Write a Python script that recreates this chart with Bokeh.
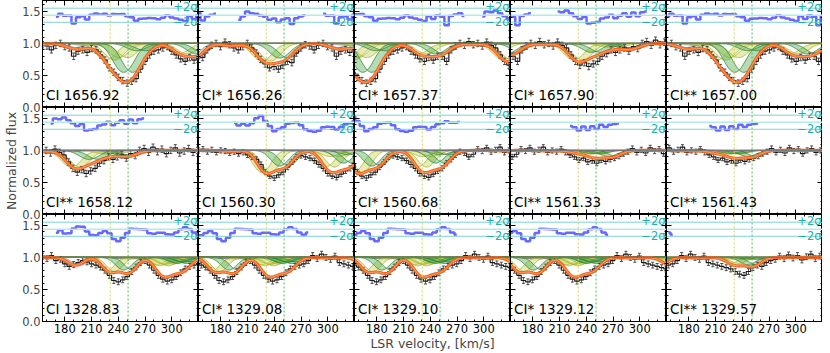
import numpy as np
from bokeh.plotting import figure
from bokeh.layouts import gridplot, row
from bokeh.models import Range1d, FixedTicker, LinearAxis, Span, Label
from bokeh.embed import file_html
from bokeh.resources import INLINE

C_KMS = 299792.458

# ---------------- panels (row-major, 3 x 5) ----------------
PANEL_LABELS = ["CI 1656.92", "CI* 1656.26", "CI* 1657.37", "CI* 1657.90", "CI** 1657.00",
                "CI** 1658.12", "CI 1560.30", "CI* 1560.68", "CI** 1561.33", "CI** 1561.43",
                "CI 1328.83", "CI* 1329.08", "CI* 1329.10", "CI* 1329.12", "CI** 1329.57"]
PANEL_WAVE = [1656.9283, 1656.2672, 1657.3792, 1657.9068, 1657.0082,
              1658.1212, 1560.3092, 1560.6822, 1561.3402, 1561.4384,
              1328.8333, 1329.0853, 1329.1004, 1329.1233, 1329.5775]
PANEL_SET = ["A", "A", "A", "A", "A", "A", "B", "B", "B", "B", "C", "C", "C", "C", "C"]
# fitted (residual) velocity windows of each panel, km/s
PANEL_FIT = [[(172, 330)], [(155, 174), (200, 276), (295, 330)], [(155, 278), (300, 330)],
             [(155, 178), (206, 308)], [(155, 330)], [(164, 268)], [(197, 330)], [(155, 271)],
             [(223, 278)], [(205, 259)], [(172, 330)], [(155, 277)], [(157, 272)],
             [(156, 267)], [(155, 162)]]

# velocity components: yellow, green, grey
COMP_VEL = [231.0, 251.0, 192.0]

# ---------------- multiplet A: CI 1656-1658 ----------------
A_REF = 1656.9283
A_VEL = np.arange(35, 546, 5)
A_FLUX = [0.82, 0.78, 0.90, 0.97, 1.00, 0.95, 1.02, 0.98, 0.93, 0.90,
          0.95, 1.00, 0.93, 0.85, 0.75, 0.68, 0.62, 0.64, 0.60, 0.66,
          0.72, 0.70, 0.85, 0.93, 0.98, 0.96, 0.90, 0.97, 1.00, 0.95,
          0.93, 0.80, 0.88, 0.90, 0.86, 0.92, 0.90, 0.82, 0.74, 0.62,
          0.55, 0.47, 0.42, 0.38, 0.41, 0.45, 0.60, 0.72, 0.82, 0.88,
          0.90, 0.93, 0.95, 0.88, 0.82, 0.76, 0.72, 0.78, 0.74, 0.80,
          0.80, 0.72, 0.90, 0.96, 1.00, 0.97, 1.03, 0.98, 1.00, 0.96,
          1.02, 0.97, 0.93, 0.82, 0.72, 0.66, 0.70, 0.64, 0.68, 0.72,
          0.80, 0.84, 0.90, 0.86, 0.90, 0.93, 0.88, 0.95, 0.92, 1.00,
          1.03, 0.97, 1.05, 0.98, 1.02, 0.95, 1.00, 1.04, 0.96, 0.99,
          1.03, 0.97, 1.00]
A_ERR = 0.05
A_LINES = [1656.2672, 1656.9283, 1657.0082, 1657.3792, 1657.9068, 1658.1212]
A_TAU_Y = [0.32, 0.30, 0.25, 0.18, 0.30, 0.06]
A_TAU_G = [0.26, 0.60, 0.12, 0.18, 0.15, 0.09]
A_TAU_K = [0.04, 0.08, 0.03, 0.02, 0.02, 0.01]
A_B = 15.0
A_EXTRA_V = [28.0]
A_EXTRA_TAU = [0.30]

# ---------------- multiplet B: CI 1560-1561 ----------------
B_REF = 1560.3092
B_VEL = np.arange(155, 546, 5)
B_FLUX = [1.00, 1.02, 0.98, 1.01, 0.97, 1.00, 0.99, 0.96, 0.98, 0.95,
          0.97, 0.93, 0.90, 0.86, 0.78, 0.66, 0.60, 0.57, 0.62, 0.66,
          0.74, 0.82, 0.90, 0.92, 0.90, 0.88, 0.84, 0.78, 0.72, 0.64,
          0.60, 0.58, 0.63, 0.68, 0.72, 0.80, 0.86, 0.93, 0.98, 0.96,
          0.90, 0.94, 1.02, 0.99, 1.04, 0.98, 1.01, 1.05, 0.97, 1.00,
          0.98, 1.02, 0.97, 0.93, 0.90, 0.85, 0.88, 0.82, 0.84, 0.80,
          0.85, 0.83, 0.86, 0.88, 0.91, 0.95, 0.98, 1.03, 0.97, 1.01,
          0.96, 1.04, 0.99, 1.02, 0.95, 1.00, 1.03, 0.97, 1.00]
B_ERR = 0.04
B_LINES = [1560.3092, 1560.6822, 1560.7090, 1561.3402, 1561.3667, 1561.4384]
B_TAU_Y = [0.42, 0.30, 0.10, 0.04, 0.005, 0.06]
B_TAU_G = [0.28, 0.22, 0.07, 0.05, 0.005, 0.10]
B_TAU_K = [0.015, 0.01, 0.005, 0.005, 0.0, 0.005]
B_B = 13.0

# ---------------- multiplet C: CI 1328-1329 ----------------
C_REF = 1328.8333
C_VEL = np.arange(155, 501, 5)
C_FLUX = [1.02, 0.98, 1.03, 0.95, 0.97, 0.90, 0.86, 0.89, 0.92, 0.95,
          0.93, 0.90, 0.88, 0.85, 0.80, 0.72, 0.64, 0.62, 0.65, 0.70,
          0.78, 0.85, 0.92, 0.95, 0.88, 0.80, 0.72, 0.66, 0.63, 0.65,
          0.70, 0.76, 0.82, 0.86, 0.88, 0.90, 0.95, 1.03, 0.98, 1.05,
          1.00, 0.97, 1.02, 0.92, 0.90, 0.88, 0.86, 0.84, 0.82, 0.78,
          0.74, 0.72, 0.78, 0.84, 0.88, 0.86, 0.92, 0.95, 0.97, 1.02,
          0.98, 1.04, 0.99, 1.03, 0.96, 1.01, 1.05, 0.98, 1.02, 1.00]
C_ERR = 0.045
C_LINES = [1328.8333, 1329.0853, 1329.1004, 1329.1233, 1329.5775, 1329.6004]
C_TAU_Y = [0.25, 0.12, 0.14, 0.11, 0.10, 0.03]
C_TAU_G = [0.22, 0.08, 0.10, 0.07, 0.12, 0.03]
C_TAU_K = [0.13, 0.02, 0.02, 0.02, 0.01, 0.0]
C_B = 12.0

SETS = {
    "A": dict(ref=A_REF, vel=A_VEL, flux=np.array(A_FLUX), err=A_ERR, lines=A_LINES,
              taus=[A_TAU_Y, A_TAU_G, A_TAU_K], b=A_B, ev=A_EXTRA_V, et=A_EXTRA_TAU),
    "B": dict(ref=B_REF, vel=B_VEL, flux=np.array(B_FLUX), err=B_ERR, lines=B_LINES,
              taus=[B_TAU_Y, B_TAU_G, B_TAU_K], b=B_B, ev=[], et=[]),
    "C": dict(ref=C_REF, vel=C_VEL, flux=np.array(C_FLUX), err=C_ERR, lines=C_LINES,
              taus=[C_TAU_Y, C_TAU_G, C_TAU_K], b=C_B, ev=[], et=[]),
}

X_RANGE = (155, 330)
Y_RANGE = (0.0, 1.67)
XTICKS = [180, 210, 240, 270, 300]
XMINOR = list(range(160, 331, 10))
YTICKS = [0.0, 0.5, 1.0, 1.5]
YTICK_LABELS = ["0.0", "0.5", "1.0", "1.5"]
YMINOR = [round(0.1 * k, 1) for k in range(0, 17)]

RES_CENTER = 1.44
RES_UNIT = 0.055
DELTA_V = 5.0

FW, FH = 156, 107          # frame size of every panel
LEFT_B, BOTTOM_B = 41, 29  # room for tick labels / axis titles
TICK_FONT = "11.5px"
TITLE_FONT = "12.5px"

FONT = "DejaVu Sans"
YEL_FILL, YEL_LINE = "#cdd96a", "#a3b326"
GRN_FILL, GRN_LINE = "#4caf50", "#2e7d32"
GRY_FILL, GRY_LINE = "#b0b0b0", "#8a8a8a"
BAND_STYLE = [(YEL_FILL, YEL_LINE, 0.5), (GRN_FILL, GRN_LINE, 0.42), (GRY_FILL, GRY_LINE, 0.45)]


def shift(v, lam_t, lam_p):
    return ((1.0 + v / C_KMS) * lam_t / lam_p - 1.0) * C_KMS


def model(v, s, lam_p):
    tau = np.zeros_like(v, dtype=float)
    for li, lam_t in enumerate(s["lines"]):
        for vc, tl in zip(COMP_VEL, s["taus"]):
            pos = shift(vc, lam_t, lam_p)
            tau += tl[li] * np.exp(-((v - pos) / s["b"]) ** 2)
    for ve, te in zip(s["ev"], s["et"]):
        pos = shift(ve, s["ref"], lam_p)
        tau += te * np.exp(-((v - pos) / s["b"]) ** 2)
    return np.exp(-tau)


def style_axis(ax, show):
    ax.major_tick_in = 5
    ax.major_tick_out = 0
    ax.minor_tick_in = 2
    ax.minor_tick_out = 0
    ax.major_tick_line_color = "black"
    ax.minor_tick_line_color = "black"
    ax.axis_line_color = "black"
    ax.major_label_text_font = FONT
    if show:
        ax.major_label_text_font_size = TICK_FONT
        ax.major_label_standoff = 2
        ax.major_label_text_color = "black"
    else:
        ax.major_label_text_font_size = "0px"
        ax.major_label_standoff = 0


figs = []
vfine = np.arange(150.0, 335.5, 0.5)
for i in range(15):
    rw, col = divmod(i, 5)
    bottom = rw == 2
    s = SETS[PANEL_SET[i]]
    lam_p = PANEL_WAVE[i]
    p = figure(x_range=Range1d(*X_RANGE), y_range=Range1d(*Y_RANGE),
               frame_width=FW, frame_height=FH,
               min_border_left=0, min_border_right=0,
               min_border_top=0, min_border_bottom=BOTTOM_B if bottom else 0,
               output_backend="svg", toolbar_location=None,
               background_fill_color="white", border_fill_color="white")
    p.outline_line_color = "black"
    p.xgrid.visible = False
    p.ygrid.visible = False
    bx = p.below[0]
    ly = p.left[0]
    bx.ticker = FixedTicker(ticks=XTICKS, minor_ticks=XMINOR)
    ly.ticker = FixedTicker(ticks=YTICKS, minor_ticks=YMINOR)
    ly.major_label_overrides = {t: l for t, l in zip(YTICKS, YTICK_LABELS)}
    style_axis(bx, bottom)
    style_axis(ly, False)
    top_ax = LinearAxis(ticker=FixedTicker(ticks=XTICKS, minor_ticks=XMINOR))
    style_axis(top_ax, False)
    p.add_layout(top_ax, "above")
    right_ax = LinearAxis(ticker=FixedTicker(ticks=YTICKS, minor_ticks=YMINOR))
    right_ax.major_label_overrides = {t: l for t, l in zip(YTICKS, YTICK_LABELS)}
    style_axis(right_ax, False)
    p.add_layout(right_ax, "right")
    if bottom and col == 2:
        bx.axis_label = "LSR velocity, [km/s]"
        bx.axis_label_text_font = FONT
        bx.axis_label_text_font_size = TITLE_FONT
        bx.axis_label_text_font_style = "normal"
        bx.axis_label_standoff = 0

    # component markers
    p.add_layout(Span(location=COMP_VEL[0], dimension="height", line_color="#cfd35a",
                      line_dash="2 2", line_width=1))
    p.add_layout(Span(location=COMP_VEL[1], dimension="height", line_color="#55b855",
                      line_dash="2 2", line_width=1))

    # residual reference lines
    for off, colr, lw in [(2, "#7fd3d3", 1), (0, "#b5e8e8", 1.6), (-2, "#7fd3d3", 1)]:
        p.add_layout(Span(location=RES_CENTER + off * RES_UNIT, dimension="width",
                          line_color=colr, line_width=lw))
    p.add_layout(Label(x=329, y=RES_CENTER + 2.2 * RES_UNIT, text="+2σ", text_align="right",
                       text_baseline="middle", text_color="#22b0a8", text_font=FONT,
                       text_font_size="11.5px"))
    p.add_layout(Label(x=329, y=RES_CENTER - 1.8 * RES_UNIT, text="−2σ", text_align="right",
                       text_baseline="middle", text_color="#22b0a8", text_font=FONT,
                       text_font_size="11.5px"))

    # component bands (grey, yellow, green)
    for k in (2, 0, 1):
        fill, line, alpha = BAND_STYLE[k]
        for li, lam_t in enumerate(s["lines"]):
            t = s["taus"][k][li]
            pos = shift(COMP_VEL[k], lam_t, lam_p)
            if t < 0.01 or pos < 110 or pos > 375:
                continue
            p1 = np.exp(-t * np.exp(-((vfine - pos + DELTA_V) / s["b"]) ** 2))
            p2 = np.exp(-t * np.exp(-((vfine - pos - DELTA_V) / s["b"]) ** 2))
            p.varea(x=vfine, y1=p1, y2=p2, fill_color=fill, fill_alpha=alpha)
            p.line(vfine, p1, line_color=line, line_width=0.8)
            p.line(vfine, p2, line_color=line, line_width=0.8)
    for ve, te in zip(s["ev"], s["et"]):
        pos = shift(ve, s["ref"], lam_p)
        if pos < 110 or pos > 375:
            continue
        p1 = np.exp(-te * np.exp(-((vfine - pos + DELTA_V) / s["b"]) ** 2))
        p2 = np.exp(-te * np.exp(-((vfine - pos - DELTA_V) / s["b"]) ** 2))
        p.varea(x=vfine, y1=p1, y2=p2, fill_color=GRY_FILL, fill_alpha=0.45)
        p.line(vfine, p1, line_color=GRY_LINE, line_width=0.8)
        p.line(vfine, p2, line_color=GRY_LINE, line_width=0.8)

    p.add_layout(Span(location=1.0, dimension="width", line_color="#777777", line_width=1.2))

    # data
    vp = shift(np.asarray(s["vel"], dtype=float), s["ref"], lam_p)
    m = (vp > 150) & (vp < 335)
    xv, fv = vp[m], s["flux"][m]
    err = s["err"]
    p.segment(x0=xv, y0=fv - err, x1=xv, y1=fv + err, line_color="#484848", line_width=0.9)
    p.scatter(x=xv, y=fv + err, marker="dash", size=3, line_color="#484848")
    p.scatter(x=xv, y=fv - err, marker="dash", size=3, line_color="#484848")
    p.step(x=xv, y=fv, mode="center", line_color="#1a1a1a", line_width=1.2)

    # residuals
    mod_at = model(xv, s, lam_p)
    for lo, hi in PANEL_FIT[i]:
        w = (xv >= lo - 2.5) & (xv <= hi + 2.5)
        if w.sum() < 1:
            continue
        ry = RES_CENTER + RES_UNIT * (fv[w] - mod_at[w]) / err
        p.step(x=xv[w], y=ry, mode="center", line_color="#4d4dff", line_width=2.5, line_alpha=0.85)

    # fitted model
    mf = model(vfine, s, lam_p)
    p.line(vfine, mf, line_color="#f26522", line_width=3.2)
    p.line(vfine, mf, line_color="#ffab6e", line_width=1.0)

    p.add_layout(Label(x=159, y=0.07, text=PANEL_LABELS[i], text_font=FONT,
                       text_font_size="13.5px", text_baseline="bottom", text_color="black"))
    figs.append(p)

# shared strip holding the y tick labels of all three rows and the y title
span = Y_RANGE[1] - Y_RANGE[0]
strip_ticks = [r * span + t for r in range(3) for t in YTICKS]
strip_labels = {r * span + t: lab for r in range(3) for t, lab in zip(YTICKS, YTICK_LABELS)}
strip = figure(x_range=Range1d(0, 1), y_range=Range1d(0, 3 * span),
               frame_width=1, frame_height=3 * FH,
               min_border_left=LEFT_B, min_border_right=0, min_border_top=0,
               min_border_bottom=BOTTOM_B, output_backend="svg", toolbar_location=None,
               background_fill_color="white", border_fill_color="white")
strip.outline_line_color = None
strip.xgrid.visible = False
strip.ygrid.visible = False
strip.below[0].visible = False
sy = strip.left[0]
sy.ticker = FixedTicker(ticks=strip_ticks)
sy.major_label_overrides = strip_labels
sy.major_tick_in = 0
sy.major_tick_out = 0
sy.minor_tick_in = 0
sy.minor_tick_out = 0
sy.axis_line_color = None
sy.major_label_text_font = FONT
sy.major_label_text_font_size = TICK_FONT
sy.major_label_standoff = 1
sy.axis_label = "Normalized flux"
sy.axis_label_text_font = FONT
sy.axis_label_text_font_size = TITLE_FONT
sy.axis_label_text_font_style = "normal"
sy.axis_label_standoff = 0

grid = gridplot([figs[0:5], figs[5:10], figs[10:15]], toolbar_location=None)
layout = row(strip, grid)
open("out.html", "w").write(file_html(layout, INLINE))
